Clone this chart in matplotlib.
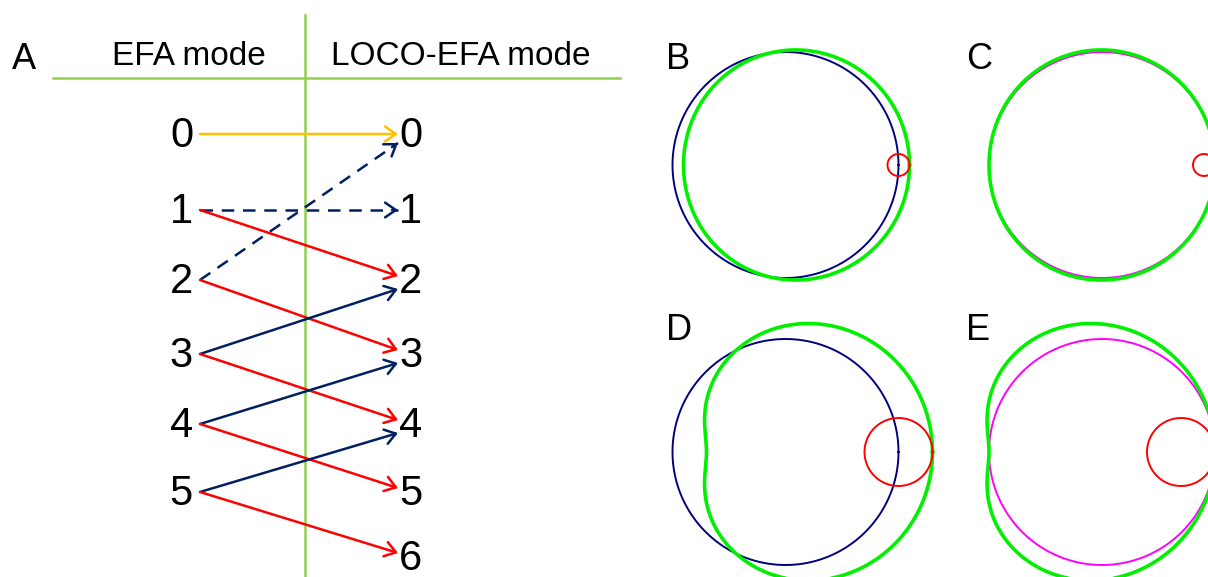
import numpy as np
import matplotlib
matplotlib.use("Agg")
import matplotlib.pyplot as plt

plt.rcParams['font.family'] = ['Liberation Sans', 'DejaVu Sans']

# panel A: which EFA mode feeds which LOCO-EFA mode
efa_modes = [0, 1, 2, 3, 4, 5]
loco_modes = [0, 1, 2, 3, 4, 5, 6]
link_src = [0, 1, 1, 2, 2, 3, 3, 4, 4, 5, 5]
link_dst = [0, 1, 2, 0, 3, 2, 4, 3, 5, 4, 6]
link_kind = ['zero', 'dash', 'plus', 'dash', 'plus', 'minus', 'plus', 'minus', 'plus', 'minus', 'plus']

# panels B-E: main circle radius and harmonic circle radius
panel_labels = ['B', 'C', 'D', 'E']
panel_type = ['EFA', 'LOCO', 'EFA', 'LOCO']
main_radius = [113, 113, 113, 113]
harm_radius = [11, 11, 34, 34]

# layout (pixels)
row_y = [132, 208, 278, 352, 422, 490, 555]
panel_centers = [(785.5, 165), (1102, 165), (785.5, 452), (1102, 452)]
panel_letter_pos = [(666, 69), (966, 69), (666, 340), (966, 340)]

kind_color = {'zero': '#FFC000', 'dash': '#002060', 'plus': '#FF0000', 'minus': '#002060'}
divider = '#92D050'

fig = plt.figure(figsize=(12.08, 5.77), dpi=100)
ax = fig.add_axes([0, 0, 1, 1])
ax.set_xlim(0, 1208)
ax.set_ylim(577, 0)
ax.axis('off')

# header and dividers
ax.text(12, 69, 'A', fontsize=26, ha='left', va='baseline')
ax.text(189, 65, 'EFA mode', fontsize=24, ha='center', va='baseline')
ax.text(461, 65, 'LOCO-EFA mode', fontsize=24, ha='center', va='baseline')
ax.plot([53, 620], [78, 78], color=divider, lw=1.8)
ax.plot([305, 305], [15, 577], color=divider, lw=1.8)

for m in efa_modes:
    ax.text(193, row_y[m] + 15, str(m), fontsize=30, ha='right', va='baseline')
for m in loco_modes:
    ax.text(399, row_y[m] + 15, str(m), fontsize=30, ha='left', va='baseline')

x0, x1 = 200, 398
head = dict(arrowstyle='->,head_length=0.55,head_width=0.38', mutation_scale=14,
            shrinkA=0, shrinkB=0, lw=1.8)
for s, d, k in zip(link_src, link_dst, link_kind):
    y0 = row_y[s] + 2
    if d == s:
        y1 = row_y[d] + 2
    elif d > s:
        y1 = row_y[d] - 2
    else:
        y1 = row_y[d] + 11
    c = kind_color[k]
    if k == 'dash':
        ax.plot([x0, x1], [y0, y1], color=c, lw=1.8, ls=(0, (5, 3.5)))
        t = 0.97
        ax.annotate('', xy=(x1, y1), xytext=(x0 + t * (x1 - x0), y0 + t * (y1 - y0)),
                    arrowprops=dict(color=c, **head))
    else:
        ax.annotate('', xy=(x1, y1), xytext=(x0, y0), arrowprops=dict(color=c, **head))

# panels B-E
t = np.linspace(0, 2 * np.pi, 600)
for lab, kind, R, r, (cx, cy), (lx, ly) in zip(panel_labels, panel_type, main_radius,
                                             harm_radius, panel_centers, panel_letter_pos):
    ax.text(lx, ly, lab, fontsize=26, ha='left', va='baseline')
    if kind == 'EFA':
        base_col = '#000080'
        gx = cx
        rc = cx + R
    else:
        base_col = '#FF00FF'
        gx = cx - r
        rc = cx + R - r
    ax.plot(cx + R * np.cos(t), cy + R * np.sin(t), color=base_col, lw=1.4)
    ax.plot(gx + R * np.cos(t) + r * np.cos(2 * t), cy + R * np.sin(t) + r * np.sin(2 * t),
            color='#00F000', lw=2.6)
    ax.plot(rc + r * np.cos(t), cy + r * np.sin(t), color='#FF0000', lw=1.4)

fig.savefig('out.png', dpi=100)
